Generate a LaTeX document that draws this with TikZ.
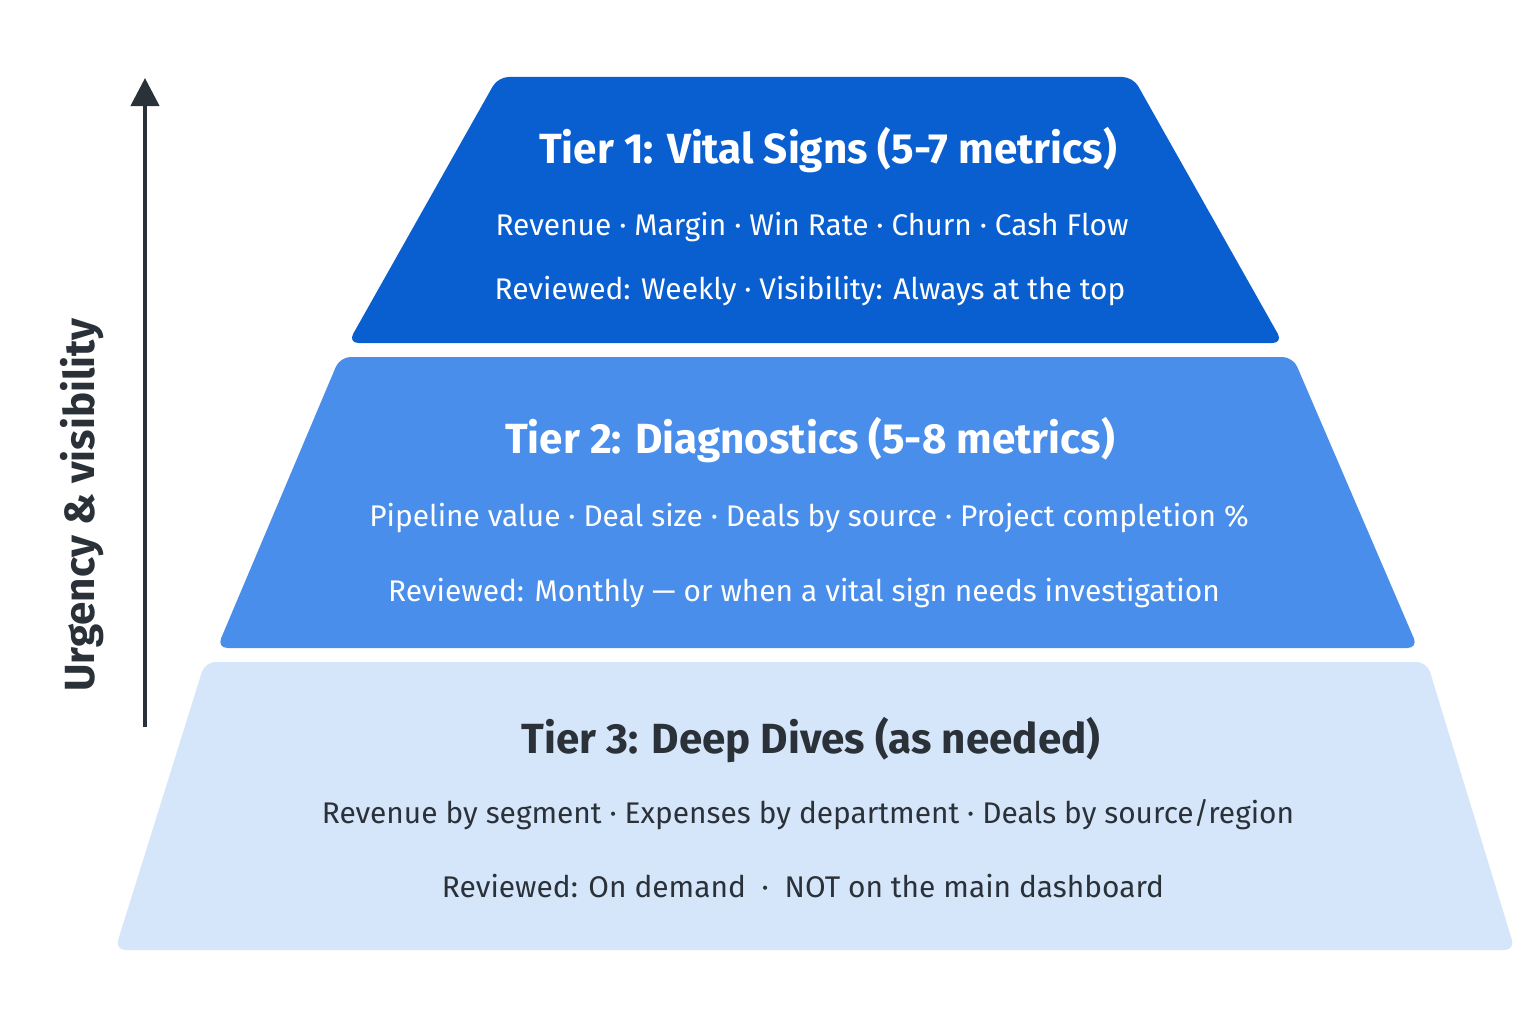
\documentclass[tikz,border=0pt]{standalone}
\usepackage{fontspec}
\setmainfont{Fira Sans}
\usetikzlibrary{arrows.meta}
\definecolor{tierone}{HTML}{0A5FD0}
\definecolor{tiertwo}{HTML}{4A8EEB}
\definecolor{tierthree}{HTML}{D6E6FA}
\definecolor{ink}{HTML}{2B3138}
\tikzset{
  tier/.style={rounded corners=6pt, draw=none},
  title/.style={font=\fontsize{24}{28}\selectfont\bfseries},
  body/.style={font=\fontsize{17}{20}\selectfont}
}
\begin{document}
\begin{tikzpicture}[x=0.02cm,y=-0.02cm]
\useasboundingbox[fill=white] (0,0) rectangle (1536,1024);

% Stufen
\fill[tier,tierone]   (498,77)  -- (1133,77)  -- (1283,343) -- (348,343) -- cycle;
\fill[tier,tiertwo]   (340,357) -- (1293,357) -- (1418,648) -- (217,648) -- cycle;
\fill[tier,tierthree] (205,662) -- (1427,662) -- (1515,950) -- (115,950) -- cycle;

% Texte
\node[title,white] (t1) at (828,150) {Tier 1: Vital Signs (5-7 metrics)};
\node[body,white] (t1a) at (812,227) {Revenue · Margin · Win Rate · Churn · Cash Flow};
\node[body,white] (t1b) at (810,291) {Reviewed: Weekly · Visibility: Always at the top};

\node[title,white] (t2) at (810,440) {Tier 2: Diagnostics (5-8 metrics)};
\node[body,white] (t2a) at (809,518) {Pipeline value · Deal size · Deals by source · Project completion \%};
\node[body,white] (t2b) at (804,593) {Reviewed: Monthly — or when a vital sign needs investigation};

\node[title,ink] (t3) at (811,740) {Tier 3: Deep Dives (as needed)};
\node[body,ink] (t3a) at (808,815) {Revenue by segment · Expenses by department · Deals by source/region};
\node[body,ink] (t3b) at (803,886) {Reviewed: On demand~ · ~NOT on the main dashboard};

% Achse
\coordinate (lo) at (145,727);
\coordinate (hi) at (145,78);
\draw[ink,line width=2.5pt,-{Triangle[length=16pt,width=16pt]}] (lo) -- (hi);
\node[title,ink,rotate=90] (axis) at (82,505) {Urgency \& visibility};
\end{tikzpicture}
\end{document}
